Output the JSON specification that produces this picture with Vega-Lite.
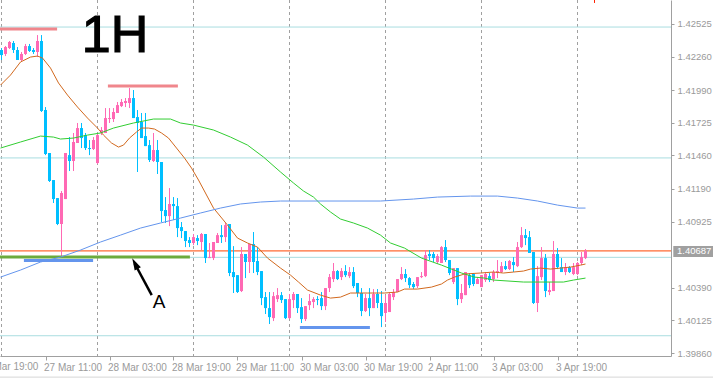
{
"$schema": "https://vega.github.io/schema/vega-lite/v6.json",
"width": 671, "height": 356,
"autosize": {"type": "none"},
"padding": {"left": 0, "top": 0, "right": 42, "bottom": 23},
"background": "white",
"config": {"view": {"stroke": null}, "font": "Liberation Sans",
  "scale": {"continuousPadding": 0},
  "axis": {"labelOverlap": false, "labelFlush": false, "labelBound": false, "grid": false, "title": null,
    "domainColor": "#a0a0a0", "tickColor": "#a0a0a0", "labelColor": "#9a9a9a",
    "labelFont": "Liberation Sans Narrow, Liberation Sans", "labelFontSize": 10},
  "axisX": {"tickSize": 4, "labelPadding": 2, "labelAlign": "left", "labelOffset": -2},
  "axisY": {"tickSize": 3, "labelPadding": 3, "labelBaseline": "middle", "labelFontSize": 9.5}},
"resolve": {"scale": {"color": "independent"}},
"datasets": {
"days": [{"t":0},{"t":24},{"t":48},{"t":72},{"t":96},{"t":120},{"t":144}],
"levels": [{"p":1.42500},{"p":1.41440},{"p":1.40635},{"p":1.40000}],
"last": [{"p":1.40687,"lab":"1.40687"}],
"annot": [{"label":"A","first":"26 Mar 19:00"}],
"segs": [
{"k":"pink","t1":-0.375,"t2":13.9,"p":1.42484},
{"k":"pink","t1":26.6,"t2":44.1,"p":1.42022},
{"k":"blue","t1":5.6,"t2":22.9,"p":1.40609},
{"k":"green","t1":-0.375,"t2":47.1,"p":1.40637},
{"k":"blue","t1":74.6,"t2":92.1,"p":1.40066}
],
"ma": [
{"s":"fast","t":-0.25,"p":1.42030},{"s":"fast","t":2.25,"p":1.42111},{"s":"fast","t":4.75,"p":1.42217},{"s":"fast","t":7.25,"p":1.42257},{"s":"fast","t":9,"p":1.42265},{"s":"fast","t":10.25,"p":1.42249},{"s":"fast","t":12.25,"p":1.42168},{"s":"fast","t":14.25,"p":1.42047},{"s":"fast","t":16.5,"p":1.41949},{"s":"fast","t":19,"p":1.41852},{"s":"fast","t":21.5,"p":1.41763},{"s":"fast","t":24,"p":1.41682},{"s":"fast","t":25.5,"p":1.41625},{"s":"fast","t":27.5,"p":1.41561},{"s":"fast","t":29.25,"p":1.41528},{"s":"fast","t":30.5,"p":1.41544},{"s":"fast","t":32,"p":1.41601},{"s":"fast","t":33.75,"p":1.41650},{"s":"fast","t":35,"p":1.41682},{"s":"fast","t":36.75,"p":1.41682},{"s":"fast","t":38.25,"p":1.41674},{"s":"fast","t":40,"p":1.41642},{"s":"fast","t":41.75,"p":1.41601},{"s":"fast","t":43.75,"p":1.41520},{"s":"fast","t":45.75,"p":1.41439},{"s":"fast","t":47.5,"p":1.41358},{"s":"fast","t":49.25,"p":1.41261},{"s":"fast","t":53,"p":1.41034},{"s":"fast","t":56.5,"p":1.40896},{"s":"fast","t":59,"p":1.40791},{"s":"fast","t":61.5,"p":1.40751},{"s":"fast","t":64,"p":1.40718},{"s":"fast","t":66.5,"p":1.40629},{"s":"fast","t":69.75,"p":1.40548},{"s":"fast","t":72.25,"p":1.40491},{"s":"fast","t":74.25,"p":1.40435},{"s":"fast","t":76.5,"p":1.40370},{"s":"fast","t":79.75,"p":1.40329},{"s":"fast","t":82.25,"p":1.40305},{"s":"fast","t":84.75,"p":1.40313},{"s":"fast","t":87.25,"p":1.40346},{"s":"fast","t":91.5,"p":1.40346},{"s":"fast","t":95.75,"p":1.40346},{"s":"fast","t":99,"p":1.40354},{"s":"fast","t":100.75,"p":1.40378},{"s":"fast","t":104,"p":1.40378},{"s":"fast","t":107.5,"p":1.40394},{"s":"fast","t":110,"p":1.40419},{"s":"fast","t":111.5,"p":1.40451},{"s":"fast","t":113.25,"p":1.40475},{"s":"fast","t":115.75,"p":1.40500},{"s":"fast","t":119.75,"p":1.40508},{"s":"fast","t":123,"p":1.40516},{"s":"fast","t":125.5,"p":1.40508},{"s":"fast","t":128,"p":1.40516},{"s":"fast","t":130.5,"p":1.40524},{"s":"fast","t":132.25,"p":1.40540},{"s":"fast","t":134.75,"p":1.40548},{"s":"fast","t":137.25,"p":1.40540},{"s":"fast","t":139.75,"p":1.40548},{"s":"fast","t":142.25,"p":1.40556},{"s":"fast","t":144.75,"p":1.40572},{"s":"fast","t":146,"p":1.40581},
{"s":"mid","t":-0.25,"p":1.41520},{"s":"mid","t":4.75,"p":1.41569},{"s":"mid","t":9.75,"p":1.41617},{"s":"mid","t":13,"p":1.41609},{"s":"mid","t":14.75,"p":1.41593},{"s":"mid","t":18,"p":1.41601},{"s":"mid","t":21.5,"p":1.41625},{"s":"mid","t":24.75,"p":1.41642},{"s":"mid","t":28,"p":1.41682},{"s":"mid","t":33,"p":1.41723},{"s":"mid","t":38,"p":1.41755},{"s":"mid","t":42.25,"p":1.41755},{"s":"mid","t":44.75,"p":1.41723},{"s":"mid","t":48,"p":1.41706},{"s":"mid","t":53,"p":1.41666},{"s":"mid","t":57.25,"p":1.41609},{"s":"mid","t":61.5,"p":1.41544},{"s":"mid","t":65.5,"p":1.41447},{"s":"mid","t":69.75,"p":1.41326},{"s":"mid","t":73,"p":1.41237},{"s":"mid","t":75.5,"p":1.41172},{"s":"mid","t":78,"p":1.41123},{"s":"mid","t":79.75,"p":1.41067},{"s":"mid","t":82.25,"p":1.41002},{"s":"mid","t":84.75,"p":1.40945},{"s":"mid","t":88,"p":1.40913},{"s":"mid","t":91.5,"p":1.40872},{"s":"mid","t":94.75,"p":1.40815},{"s":"mid","t":97.25,"p":1.40751},{"s":"mid","t":100.75,"p":1.40710},{"s":"mid","t":105,"p":1.40629},{"s":"mid","t":110,"p":1.40572},{"s":"mid","t":115,"p":1.40508},{"s":"mid","t":118.25,"p":1.40475},{"s":"mid","t":120.75,"p":1.40467},{"s":"mid","t":123,"p":1.40451},{"s":"mid","t":130.5,"p":1.40435},{"s":"mid","t":140.5,"p":1.40435},{"s":"mid","t":143,"p":1.40451},{"s":"mid","t":146,"p":1.40467},
{"s":"slow","t":-0.25,"p":1.40475},{"s":"slow","t":4.75,"p":1.40532},{"s":"slow","t":9.75,"p":1.40597},{"s":"slow","t":14.75,"p":1.40637},{"s":"slow","t":19.75,"p":1.40694},{"s":"slow","t":24.75,"p":1.40759},{"s":"slow","t":29.75,"p":1.40815},{"s":"slow","t":34.75,"p":1.40872},{"s":"slow","t":39.75,"p":1.40913},{"s":"slow","t":44.75,"p":1.40953},{"s":"slow","t":49.75,"p":1.40994},{"s":"slow","t":54.75,"p":1.41034},{"s":"slow","t":59.75,"p":1.41067},{"s":"slow","t":64.75,"p":1.41083},{"s":"slow","t":69.75,"p":1.41091},{"s":"slow","t":94.75,"p":1.41091},{"s":"slow","t":103,"p":1.41107},{"s":"slow","t":109,"p":1.41123},{"s":"slow","t":117.25,"p":1.41131},{"s":"slow","t":124,"p":1.41131},{"s":"slow","t":129,"p":1.41115},{"s":"slow","t":134,"p":1.41091},{"s":"slow","t":139,"p":1.41058},{"s":"slow","t":144,"p":1.41034},{"s":"slow","t":146,"p":1.41034}
],
"candles": [
{"t":0,"o":1.42314,"h":1.42330,"l":1.42233,"c":1.42273},
{"t":1,"o":1.42282,"h":1.42346,"l":1.42265,"c":1.42338},
{"t":2,"o":1.42330,"h":1.42387,"l":1.42322,"c":1.42379},
{"t":3,"o":1.42371,"h":1.42387,"l":1.42290,"c":1.42314},
{"t":4,"o":1.42314,"h":1.42338,"l":1.42233,"c":1.42233},
{"t":5,"o":1.42233,"h":1.42298,"l":1.42225,"c":1.42282},
{"t":6,"o":1.42282,"h":1.42363,"l":1.42273,"c":1.42346},
{"t":7,"o":1.42346,"h":1.42363,"l":1.42298,"c":1.42306},
{"t":8,"o":1.42314,"h":1.42330,"l":1.42282,"c":1.42298},
{"t":9,"o":1.42298,"h":1.42435,"l":1.42257,"c":1.42387},
{"t":10,"o":1.42387,"h":1.42435,"l":1.41812,"c":1.41820},
{"t":11,"o":1.41828,"h":1.41852,"l":1.41463,"c":1.41472},
{"t":12,"o":1.41480,"h":1.41480,"l":1.41245,"c":1.41253},
{"t":13,"o":1.41261,"h":1.41261,"l":1.41075,"c":1.41107},
{"t":14,"o":1.41115,"h":1.41115,"l":1.40896,"c":1.40905},
{"t":15,"o":1.40905,"h":1.41172,"l":1.40645,"c":1.41156},
{"t":16,"o":1.41107,"h":1.41480,"l":1.41107,"c":1.41480},
{"t":17,"o":1.41463,"h":1.41609,"l":1.41334,"c":1.41415},
{"t":18,"o":1.41415,"h":1.41642,"l":1.41334,"c":1.41569},
{"t":19,"o":1.41561,"h":1.41723,"l":1.41561,"c":1.41682},
{"t":20,"o":1.41682,"h":1.41723,"l":1.41520,"c":1.41601},
{"t":21,"o":1.41625,"h":1.41642,"l":1.41504,"c":1.41520},
{"t":22,"o":1.41520,"h":1.41585,"l":1.41463,"c":1.41512},
{"t":23,"o":1.41512,"h":1.41609,"l":1.41504,"c":1.41585},
{"t":24,"o":1.41399,"h":1.41642,"l":1.41391,"c":1.41625},
{"t":25,"o":1.41642,"h":1.41690,"l":1.41625,"c":1.41666},
{"t":26,"o":1.41642,"h":1.41844,"l":1.41642,"c":1.41763},
{"t":27,"o":1.41755,"h":1.41844,"l":1.41723,"c":1.41763},
{"t":28,"o":1.41755,"h":1.41844,"l":1.41731,"c":1.41812},
{"t":29,"o":1.41804,"h":1.41893,"l":1.41804,"c":1.41868},
{"t":30,"o":1.41860,"h":1.41917,"l":1.41852,"c":1.41893},
{"t":31,"o":1.41885,"h":1.41925,"l":1.41852,"c":1.41901},
{"t":32,"o":1.41885,"h":1.42006,"l":1.41844,"c":1.41925},
{"t":33,"o":1.41925,"h":1.41990,"l":1.41763,"c":1.41763},
{"t":34,"o":1.41771,"h":1.41828,"l":1.41326,"c":1.41723},
{"t":35,"o":1.41731,"h":1.41804,"l":1.41601,"c":1.41601},
{"t":36,"o":1.41617,"h":1.41804,"l":1.41536,"c":1.41536},
{"t":37,"o":1.41544,"h":1.41585,"l":1.41407,"c":1.41423},
{"t":38,"o":1.41415,"h":1.41642,"l":1.41407,"c":1.41504},
{"t":39,"o":1.41504,"h":1.41585,"l":1.41310,"c":1.41407},
{"t":40,"o":1.41407,"h":1.41407,"l":1.40921,"c":1.41010},
{"t":41,"o":1.41018,"h":1.41123,"l":1.40913,"c":1.40969},
{"t":42,"o":1.40969,"h":1.41196,"l":1.40888,"c":1.41067},
{"t":43,"o":1.41067,"h":1.41123,"l":1.40937,"c":1.41050},
{"t":44,"o":1.41050,"h":1.41115,"l":1.40799,"c":1.40872},
{"t":45,"o":1.40880,"h":1.40921,"l":1.40791,"c":1.40848},
{"t":46,"o":1.40848,"h":1.40848,"l":1.40718,"c":1.40767},
{"t":47,"o":1.40775,"h":1.40799,"l":1.40718,"c":1.40751},
{"t":48,"o":1.40751,"h":1.40824,"l":1.40734,"c":1.40799},
{"t":49,"o":1.40791,"h":1.40815,"l":1.40734,"c":1.40767},
{"t":50,"o":1.40759,"h":1.40832,"l":1.40694,"c":1.40824},
{"t":51,"o":1.40824,"h":1.40824,"l":1.40589,"c":1.40629},
{"t":52,"o":1.40629,"h":1.40751,"l":1.40629,"c":1.40637},
{"t":53,"o":1.40629,"h":1.40759,"l":1.40613,"c":1.40759},
{"t":54,"o":1.40751,"h":1.40832,"l":1.40751,"c":1.40815},
{"t":55,"o":1.40815,"h":1.40896,"l":1.40751,"c":1.40799},
{"t":56,"o":1.40799,"h":1.40913,"l":1.40759,"c":1.40896},
{"t":57,"o":1.40905,"h":1.40905,"l":1.40483,"c":1.40508},
{"t":58,"o":1.40516,"h":1.40726,"l":1.40346,"c":1.40475},
{"t":59,"o":1.40491,"h":1.40491,"l":1.40346,"c":1.40354},
{"t":60,"o":1.40362,"h":1.40718,"l":1.40354,"c":1.40662},
{"t":61,"o":1.40662,"h":1.40662,"l":1.40467,"c":1.40597},
{"t":62,"o":1.40597,"h":1.40743,"l":1.40508,"c":1.40743},
{"t":63,"o":1.40743,"h":1.40840,"l":1.40508,"c":1.40597},
{"t":64,"o":1.40605,"h":1.40718,"l":1.40491,"c":1.40516},
{"t":65,"o":1.40524,"h":1.40524,"l":1.40248,"c":1.40305},
{"t":66,"o":1.40313,"h":1.40354,"l":1.40176,"c":1.40224},
{"t":67,"o":1.40224,"h":1.40354,"l":1.40095,"c":1.40151},
{"t":68,"o":1.40143,"h":1.40354,"l":1.40119,"c":1.40321},
{"t":69,"o":1.40297,"h":1.40386,"l":1.40273,"c":1.40329},
{"t":70,"o":1.40329,"h":1.40354,"l":1.40265,"c":1.40289},
{"t":71,"o":1.40297,"h":1.40297,"l":1.40135,"c":1.40143},
{"t":72,"o":1.40143,"h":1.40338,"l":1.40135,"c":1.40297},
{"t":73,"o":1.40289,"h":1.40354,"l":1.40224,"c":1.40338},
{"t":74,"o":1.40338,"h":1.40338,"l":1.40184,"c":1.40224},
{"t":75,"o":1.40232,"h":1.40305,"l":1.40103,"c":1.40135},
{"t":76,"o":1.40135,"h":1.40240,"l":1.40119,"c":1.40240},
{"t":77,"o":1.40248,"h":1.40338,"l":1.40208,"c":1.40281},
{"t":78,"o":1.40273,"h":1.40313,"l":1.40224,"c":1.40297},
{"t":79,"o":1.40297,"h":1.40321,"l":1.40248,"c":1.40289},
{"t":80,"o":1.40305,"h":1.40354,"l":1.40208,"c":1.40240},
{"t":81,"o":1.40240,"h":1.40386,"l":1.40208,"c":1.40386},
{"t":82,"o":1.40386,"h":1.40500,"l":1.40354,"c":1.40475},
{"t":83,"o":1.40459,"h":1.40589,"l":1.40435,"c":1.40524},
{"t":84,"o":1.40524,"h":1.40532,"l":1.40451,"c":1.40459},
{"t":85,"o":1.40475,"h":1.40548,"l":1.40451,"c":1.40524},
{"t":86,"o":1.40524,"h":1.40572,"l":1.40475,"c":1.40491},
{"t":87,"o":1.40483,"h":1.40556,"l":1.40467,"c":1.40516},
{"t":88,"o":1.40516,"h":1.40556,"l":1.40386,"c":1.40402},
{"t":89,"o":1.40427,"h":1.40427,"l":1.40313,"c":1.40346},
{"t":90,"o":1.40346,"h":1.40386,"l":1.40159,"c":1.40200},
{"t":91,"o":1.40200,"h":1.40338,"l":1.40192,"c":1.40305},
{"t":92,"o":1.40305,"h":1.40386,"l":1.40159,"c":1.40224},
{"t":93,"o":1.40224,"h":1.40378,"l":1.40224,"c":1.40338},
{"t":94,"o":1.40338,"h":1.40378,"l":1.40224,"c":1.40265},
{"t":95,"o":1.40265,"h":1.40362,"l":1.40070,"c":1.40159},
{"t":96,"o":1.40184,"h":1.40329,"l":1.40111,"c":1.40265},
{"t":97,"o":1.40192,"h":1.40354,"l":1.40192,"c":1.40338},
{"t":98,"o":1.40313,"h":1.40378,"l":1.40289,"c":1.40354},
{"t":99,"o":1.40354,"h":1.40459,"l":1.40354,"c":1.40459},
{"t":100,"o":1.40459,"h":1.40556,"l":1.40451,"c":1.40500},
{"t":101,"o":1.40500,"h":1.40540,"l":1.40435,"c":1.40467},
{"t":102,"o":1.40467,"h":1.40475,"l":1.40386,"c":1.40410},
{"t":103,"o":1.40419,"h":1.40435,"l":1.40378,"c":1.40394},
{"t":104,"o":1.40402,"h":1.40475,"l":1.40386,"c":1.40475},
{"t":105,"o":1.40475,"h":1.40516,"l":1.40467,"c":1.40483},
{"t":106,"o":1.40483,"h":1.40694,"l":1.40475,"c":1.40653},
{"t":107,"o":1.40662,"h":1.40694,"l":1.40613,"c":1.40645},
{"t":108,"o":1.40662,"h":1.40678,"l":1.40597,"c":1.40629},
{"t":109,"o":1.40597,"h":1.40662,"l":1.40581,"c":1.40645},
{"t":110,"o":1.40589,"h":1.40726,"l":1.40589,"c":1.40718},
{"t":111,"o":1.40718,"h":1.40775,"l":1.40597,"c":1.40613},
{"t":112,"o":1.40613,"h":1.40613,"l":1.40491,"c":1.40508},
{"t":113,"o":1.40435,"h":1.40548,"l":1.40419,"c":1.40548},
{"t":114,"o":1.40548,"h":1.40548,"l":1.40248,"c":1.40297},
{"t":115,"o":1.40297,"h":1.40419,"l":1.40265,"c":1.40346},
{"t":116,"o":1.40329,"h":1.40516,"l":1.40329,"c":1.40516},
{"t":117,"o":1.40491,"h":1.40508,"l":1.40386,"c":1.40410},
{"t":118,"o":1.40500,"h":1.40508,"l":1.40402,"c":1.40419},
{"t":119,"o":1.40419,"h":1.40475,"l":1.40419,"c":1.40459},
{"t":120,"o":1.40394,"h":1.40491,"l":1.40394,"c":1.40491},
{"t":121,"o":1.40451,"h":1.40516,"l":1.40435,"c":1.40500},
{"t":122,"o":1.40483,"h":1.40508,"l":1.40435,"c":1.40451},
{"t":123,"o":1.40459,"h":1.40532,"l":1.40435,"c":1.40516},
{"t":124,"o":1.40508,"h":1.40613,"l":1.40467,"c":1.40524},
{"t":125,"o":1.40516,"h":1.40597,"l":1.40508,"c":1.40564},
{"t":126,"o":1.40564,"h":1.40605,"l":1.40532,"c":1.40540},
{"t":127,"o":1.40540,"h":1.40613,"l":1.40532,"c":1.40605},
{"t":128,"o":1.40597,"h":1.40637,"l":1.40516,"c":1.40572},
{"t":129,"o":1.40564,"h":1.40759,"l":1.40556,"c":1.40718},
{"t":130,"o":1.40718,"h":1.40880,"l":1.40710,"c":1.40815},
{"t":131,"o":1.40815,"h":1.40864,"l":1.40734,"c":1.40791},
{"t":132,"o":1.40799,"h":1.40848,"l":1.40670,"c":1.40670},
{"t":133,"o":1.40678,"h":1.40678,"l":1.40257,"c":1.40265},
{"t":134,"o":1.40265,"h":1.40564,"l":1.40192,"c":1.40483},
{"t":135,"o":1.40475,"h":1.40718,"l":1.40451,"c":1.40629},
{"t":136,"o":1.40629,"h":1.40662,"l":1.40313,"c":1.40362},
{"t":137,"o":1.40354,"h":1.40435,"l":1.40329,"c":1.40370},
{"t":138,"o":1.40362,"h":1.40767,"l":1.40362,"c":1.40662},
{"t":139,"o":1.40662,"h":1.40710,"l":1.40540,"c":1.40556},
{"t":140,"o":1.40556,"h":1.40629,"l":1.40516,"c":1.40516},
{"t":141,"o":1.40516,"h":1.40589,"l":1.40491,"c":1.40556},
{"t":142,"o":1.40556,"h":1.40564,"l":1.40508,"c":1.40516},
{"t":143,"o":1.40500,"h":1.40589,"l":1.40491,"c":1.40556},
{"t":144,"o":1.40500,"h":1.40597,"l":1.40491,"c":1.40589},
{"t":145,"o":1.40589,"h":1.40678,"l":1.40572,"c":1.40637},
{"t":146,"o":1.40629,"h":1.40702,"l":1.40621,"c":1.40687}
]
},
"layer": [
{"data": {"name": "days"},
 "mark": {"type": "rule", "strokeDash": [3, 3], "color": "#a0a0a0", "strokeWidth": 1},
 "encoding": {"x": {"field": "t", "type": "quantitative",
   "scale": {"domain": [-0.375, 167.375], "nice": false, "zero": false, "padding": 0},
   "axis": {"values": [11, 27, 43, 59, 75, 91, 107, 123, 139], "tickCount": 30,
     "labelExpr": "['27 Mar 11:00','28 Mar 03:00','28 Mar 19:00','29 Mar 11:00','30 Mar 03:00','30 Mar 19:00','2 Apr 11:00','3 Apr 03:00','3 Apr 19:00'][round((datum.value-11)/16)]"}}}},
{"data": {"name": "levels"},
 "mark": {"type": "rule", "color": "#a9dde0", "strokeWidth": 1},
 "encoding": {"y": {"field": "p", "type": "quantitative",
   "scale": {"domain": [1.39836, 1.42719], "nice": false, "zero": false, "padding": 0},
   "axis": {"orient": "right", "tickCount": 30,
     "values": [1.42525, 1.4226, 1.4199, 1.41725, 1.4146, 1.4119, 1.40925, 1.4039, 1.40125, 1.3986],
     "format": ".5f"}}}},
{"data": {"name": "last"},
 "mark": {"type": "rule", "color": "#ff4500", "strokeWidth": 1},
 "encoding": {"y": {"field": "p", "type": "quantitative"}}},
{"data": {"name": "candles"},
 "mark": {"type": "rule", "strokeWidth": 1},
 "encoding": {"x": {"field": "t", "type": "quantitative"},
   "y": {"field": "l", "type": "quantitative"}, "y2": {"field": "h"},
   "color": {"condition": {"test": "datum.c >= datum.o", "value": "#ff69b4"}, "value": "#00bfff"}}},
{"data": {"name": "candles"},
 "mark": {"type": "bar", "size": 3, "orient": "vertical"},
 "encoding": {"x": {"field": "t", "type": "quantitative"},
   "y": {"field": "o", "type": "quantitative"}, "y2": {"field": "c"},
   "color": {"condition": {"test": "datum.c >= datum.o", "value": "#ff69b4"}, "value": "#00bfff"}}},
{"data": {"name": "segs"},
 "mark": {"type": "rule", "strokeWidth": 3, "strokeCap": "butt"},
 "encoding": {"x": {"field": "t1", "type": "quantitative"}, "x2": {"field": "t2"},
   "y": {"field": "p", "type": "quantitative"},
   "color": {"field": "k", "type": "nominal", "legend": null,
     "scale": {"domain": ["pink", "blue", "green"], "range": ["#f0868c", "#6495ed", "#6cab3c"]}}}},
{"data": {"name": "ma"},
 "mark": {"type": "line", "strokeWidth": 1, "interpolate": "linear"},
 "encoding": {"x": {"field": "t", "type": "quantitative"},
   "y": {"field": "p", "type": "quantitative"},
   "color": {"field": "s", "type": "nominal", "legend": null,
     "scale": {"domain": ["fast", "mid", "slow"], "range": ["#d2691e", "#32cd32", "#6495ed"]}}}},
{"data": {"name": "annot"},
 "mark": {"type": "rule", "color": "black", "strokeWidth": 2.5},
 "encoding": {"x": {"datum": 37.55}, "y": {"datum": 1.40329}, "x2": {"datum": 33.3}, "y2": {"datum": 1.40585}}},
{"data": {"name": "annot"},
 "mark": {"type": "point", "shape": "M0,-1L-0.5,0.7L0.5,0.7Z", "filled": true, "color": "black", "opacity": 1, "size": 196, "angle": 332},
 "encoding": {"x": {"datum": 33.5}, "y": {"datum": 1.40577}}},
{"data": {"name": "annot"},
 "mark": {"type": "text", "fontSize": 19, "font": "Liberation Sans", "align": "center", "baseline": "alphabetic", "color": "black"},
 "encoding": {"x": {"datum": 39.4}, "y": {"datum": 1.40224}, "text": {"field": "label"}}},
{"data": {"name": "annot"},
 "mark": {"type": "text", "fontSize": 52, "font": "Liberation Sans", "align": "center", "baseline": "alphabetic", "color": "black", "stroke": "black", "strokeWidth": 1.2},
 "encoding": {"x": {"datum": 28.4}, "y": {"datum": 1.42300}, "text": {"value": "1H"}}},
{"data": {"name": "annot"},
 "mark": {"type": "text", "fontSize": 10, "font": "Liberation Sans Narrow, Liberation Sans", "align": "left", "baseline": "top", "color": "#9a9a9a"},
 "encoding": {"x": {"datum": -5.5}, "y": {"datum": 1.39787}, "text": {"field": "first"}}},
{"data": {"name": "last"},
 "mark": {"type": "rect", "color": "#a0a0a0"},
 "encoding": {"x": {"datum": 167.95}, "x2": {"datum": 178}, "y": {"datum": 1.40726}, "y2": {"datum": 1.40637}}},
{"data": {"name": "last"},
 "mark": {"type": "text", "color": "white", "align": "left", "baseline": "middle", "font": "Liberation Sans Narrow, Liberation Sans", "fontSize": 9.5},
 "encoding": {"x": {"datum": 168.875}, "y": {"field": "p", "type": "quantitative"}, "text": {"field": "lab"}}},
{"data": {"name": "annot"},
 "mark": {"type": "rule", "color": "#d6d6d6", "strokeWidth": 1},
 "encoding": {"x": {"datum": -0.375}, "x2": {"datum": 178}, "y": {"datum": 1.39665}}},
{"data": {"name": "annot"},
 "mark": {"type": "rule", "color": "#ff2000", "strokeWidth": 1},
 "encoding": {"x": {"datum": 148.25}, "y": {"datum": 1.42719}, "y2": {"datum": 1.42695}}}
]
}
